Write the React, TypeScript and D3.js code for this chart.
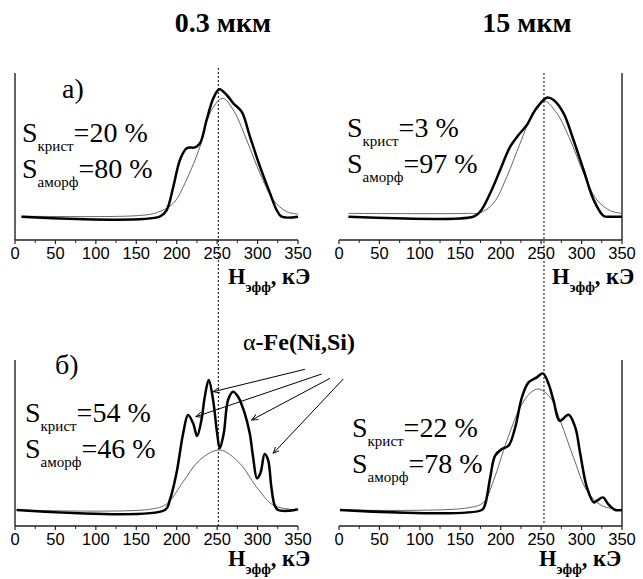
import React from 'react';
import * as d3 from 'd3';

// H_eff (kOe) and intensity (arb. units)
const hTL = [8, 179, 187.6, 195.8, 204, 212.3, 222.6, 228.8, 237, 245.3, 252.7, 261.8, 270, 280.3, 290.6, 303, 315.4, 323.6, 329.8, 350];
const iTL = [0, 0, 6.7, 30, 56.7, 68.4, 69.4, 73.4, 96.7, 118.4, 127.4, 121.7, 113.4, 105, 80, 50, 23.4, 6.7, 0, 0];
const hTLfit = [8, 150, 175, 195.8, 212, 228.8, 241, 256.7, 270, 286.5, 303, 319.5, 336, 350];
const iTLfit = [0.5, 1, 4, 13.4, 36.7, 70, 103.4, 118.4, 106.7, 76.7, 43.4, 16.7, 5, 2.7];

const hTR = [11.6, 166, 174.6, 187, 199.3, 211.7, 222, 232.4, 242.7, 257, 265.4, 277.8, 290, 302.5, 315, 327.3, 335, 350];
const iTR = [0, 0, 5, 23.4, 46.7, 70, 81.7, 91.7, 106.7, 119, 116.7, 103.4, 76.7, 46.7, 16.7, 0.7, 0, 0];
const hTRfit = [11.6, 160, 174.6, 191, 207.6, 224, 240.6, 253.8, 269.5, 286, 302.5, 319, 335.5, 350];
const iTRfit = [3.3, 3.3, 4, 13.4, 40, 73.4, 105, 115.7, 103.4, 76.7, 43.4, 16.7, 6, 3.3];

const hBL = [2, 185.3, 191.5, 199.7, 208, 214, 220.3, 225.2, 230.6, 234.7, 239.6, 245, 250, 253.2, 258.2, 263.5, 269.7, 275.9, 284.1, 290.3, 294.4, 299.3, 303.5, 308.8, 313, 317, 321, 325.3, 339.7, 350];
const iBL = [0, 0, 10, 36.7, 76.7, 95, 86.7, 74, 90, 113.3, 130, 110, 76.7, 61.7, 76.7, 110, 118.3, 113.3, 96.7, 76.7, 53.3, 31.7, 36.7, 56, 50, 23.3, 5, 0, -0.7, 0.7];
const hBLfit = [2, 166.8, 187.4, 208, 228.5, 253.2, 278, 298.5, 319, 339.7, 350];
const iBLfit = [0, 0.7, 6, 28.3, 50, 60, 46.7, 23.3, 5, 0.7, 0];

const hBR = [1.2, 176.6, 180.8, 187, 193.1, 201.4, 209.7, 217.9, 226.2, 234.4, 244.7, 252.2, 259.2, 265.4, 272.8, 283.9, 292.2, 298.4, 306.6, 314.9, 319, 326.5, 333.5, 341.7, 350];
const iBR = [0, 0, 6, 32.6, 54.3, 61, 64.3, 82.6, 112.6, 127.6, 132.6, 136.6, 126, 109.3, 89.3, 95.3, 82.6, 56, 22.6, 7.6, 9.3, 12.6, 5.3, 0, 0];
const hBRfit = [1.2, 158, 178.7, 191, 207.6, 224, 236.5, 246.8, 261.2, 273.6, 290, 306.6, 323, 339.7, 350];
const iBRfit = [0, 2, 7.6, 29.3, 69.3, 102.6, 117, 121, 112.6, 89.3, 52.6, 19.3, 5.3, 1, 0];

const xTicks = [0, 50, 100, 150, 200, 250, 300, 350];
const xMinor = [25, 75, 125, 175, 225, 275, 325];

// arrows to α-Fe(Ni,Si) peaks, [h0, i0, h1, i1] in bottom-left panel units
const arrows = [
  [358.6, 140.7, 245.2, 118.3],
  [379.3, 136, 223.8, 93.3],
  [389.6, 131.7, 292.7, 90],
  [406, 131, 319.4, 56.7],
];

const serif = "'Liberation Serif', 'Times New Roman', serif";
const sans = "'Liberation Sans', Arial, sans-serif";

const zip = (h: number[], v: number[]) => h.map((d, i) => [d, v[i]] as [number, number]);

function Panel({ x0, x1, yBot, yTop, base, side, thick, fit, mark, sKr, sAm, sx, sy, hx, hy }: any) {
  const x = d3.scaleLinear().domain([0, 350]).range([x0, x1]);
  const y = d3.scaleLinear().domain([-base, yBot - yTop - base]).range([yBot, yTop]);
  const line = d3.line<[number, number]>()
    .x(d => x(d[0]))
    .y(d => y(d[1]))
    .curve(d3.curveCatmullRom.alpha(0.5));
  const axX = side === 'left' ? x0 : x1;
  return (
    <g>
      <line x1={x0} x2={x1} y1={yBot} y2={yBot} stroke="#222" strokeWidth={1.4} />
      <line x1={axX} x2={axX} y1={yTop} y2={yBot} stroke="#222" strokeWidth={1.4} />
      {xTicks.map(t => (
        <g key={t}>
          <line x1={x(t)} x2={x(t)} y1={yBot} y2={yBot + 4} stroke="#222" strokeWidth={1.2} />
          <text x={x(t)} y={yBot + 19} textAnchor="middle" style={{ fontFamily: sans }} fontSize={16.5}>{t}</text>
        </g>
      ))}
      {xMinor.map(t => (
        <line key={t} x1={x(t)} x2={x(t)} y1={yBot} y2={yBot + 3} stroke="#222" strokeWidth={1} />
      ))}
      <path d={line(fit) || ''} fill="none" stroke="#666" strokeWidth={1} />
      <path d={line(thick) || ''} fill="none" stroke="#000" strokeWidth={2.5} strokeLinejoin="round" />
      {mark && (
        <text x={mark[0]} y={mark[1]} style={{ fontFamily: serif }} fontSize={28}>{mark[2]}</text>
      )}
      <text x={sx} y={sy} style={{ fontFamily: serif }} fontSize={28}>
        <tspan>S</tspan>
        <tspan fontSize={15} dy={9}>крист</tspan>
        <tspan dy={-9}>={sKr} %</tspan>
      </text>
      <text x={sx} y={sy + 36} style={{ fontFamily: serif }} fontSize={28}>
        <tspan>S</tspan>
        <tspan fontSize={15} dy={9}>аморф</tspan>
        <tspan dy={-9}>={sAm} %</tspan>
      </text>
      <text x={hx} y={hy} style={{ fontFamily: serif }} fontSize={22.5} fontWeight="bold">
        <tspan>H</tspan>
        <tspan fontSize={14} dy={8}>эфф</tspan>
        <tspan dy={-8}>, кЭ</tspan>
      </text>
    </g>
  );
}

export default function App() {
  const xL = d3.scaleLinear().domain([0, 350]).range([15, 298]);
  const xR = d3.scaleLinear().domain([0, 350]).range([339, 622]);
  const yB = d3.scaleLinear().domain([-16, 150]).range([526, 360]);
  return (
    <svg width={643} height={579} style={{ position: 'absolute', left: 0, top: 0, background: '#fff' }}>
      <defs>
        <marker id="ah" viewBox="0 0 10 10" refX={9} refY={5} markerWidth={7} markerHeight={7} orient="auto">
          <path d="M0,1 L9,5 L0,9" fill="none" stroke="#000" strokeWidth={1.3} />
        </marker>
      </defs>
      <text x={223} y={32} textAnchor="middle" style={{ fontFamily: serif }} fontSize={28} fontWeight="bold">0.3 мкм</text>
      <text x={527} y={32} textAnchor="middle" style={{ fontFamily: serif }} fontSize={28} fontWeight="bold">15 мкм</text>

      <line x1={xL(251.5)} x2={xL(251.5)} y1={68} y2={527} stroke="#000" strokeWidth={1} strokeDasharray="2,2" />
      <line x1={xR(253.5)} x2={xR(253.5)} y1={73} y2={525} stroke="#000" strokeWidth={1} strokeDasharray="2,2" />

      <Panel x0={15} x1={298} yBot={240} yTop={73} base={23.3} side="left"
        thick={zip(hTL, iTL)} fit={zip(hTLfit, iTLfit)} mark={[62, 98, 'а)']}
        sKr="20" sAm="80" sx={22} sy={142} hx={228} hy={284} />
      <Panel x0={339} x1={622} yBot={240} yTop={73} base={23.3} side="right"
        thick={zip(hTR, iTR)} fit={zip(hTRfit, iTRfit)}
        sKr="3" sAm="97" sx={347} sy={137} hx={552} hy={284} />
      <Panel x0={15} x1={298} yBot={526} yTop={360} base={16} side="left"
        thick={zip(hBL, iBL)} fit={zip(hBLfit, iBLfit)} mark={[55, 374, 'б)']}
        sKr="54" sAm="46" sx={25} sy={422} hx={228} hy={566} />
      <Panel x0={339} x1={622} yBot={526} yTop={360} base={16} side="right"
        thick={zip(hBR, iBR)} fit={zip(hBRfit, iBRfit)}
        sKr="22" sAm="78" sx={352} sy={437} hx={539} hy={566} />

      <text x={243} y={350} style={{ fontFamily: serif }} fontSize={24}>
        <tspan>α</tspan>
        <tspan fontWeight="bold">-Fe(Ni,Si)</tspan>
      </text>
      {arrows.map((a, i) => (
        <line key={i} x1={xL(a[0])} y1={yB(a[1])} x2={xL(a[2])} y2={yB(a[3])}
          stroke="#000" strokeWidth={1} markerEnd="url(#ah)" />
      ))}
    </svg>
  );
}
